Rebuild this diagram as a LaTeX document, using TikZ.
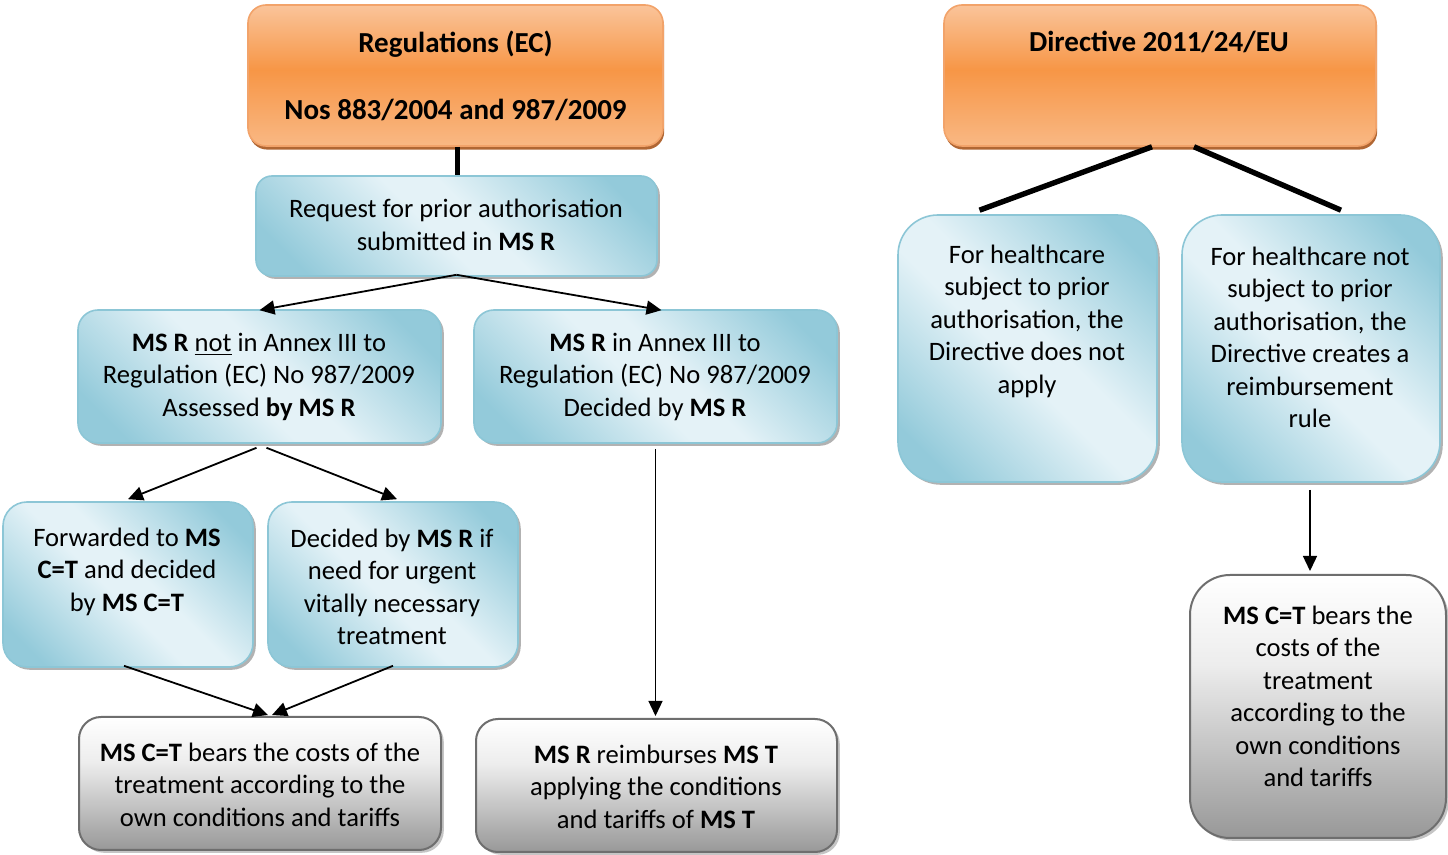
\documentclass[tikz,border=0pt]{standalone}
\usepackage{fontspec}
\setmainfont{Carlito}
\usetikzlibrary{arrows.meta,shadows}

\definecolor{bxdark}{HTML}{93CADA}
\definecolor{bxlight}{HTML}{E4F2F7}
\definecolor{bxedge}{HTML}{8CC6D6}
\definecolor{ortop}{HTML}{FAC49A}
\definecolor{ormid}{HTML}{F79646}
\definecolor{orbot}{HTML}{F9B884}
\definecolor{oredge}{HTML}{F2A36A}
\definecolor{orshadow}{HTML}{A8561E}
\definecolor{gytop}{HTML}{FFFFFF}
\definecolor{gymid}{HTML}{EDEDED}
\definecolor{gybot}{HTML}{989898}
\definecolor{gyedge}{HTML}{6E6E6E}

% diagonal band: dark corners top-right / bottom-left, light along the other diagonal
\pgfdeclarehorizontalshading{bluediag}{100bp}{color(0bp)=(bxdark); color(22bp)=(bxdark); color(46bp)=(bxlight); color(54bp)=(bxlight); color(78bp)=(bxdark); color(100bp)=(bxdark)}
\pgfdeclareverticalshading{orangevert}{100bp}{color(0bp)=(orbot); color(25bp)=(orbot); color(52bp)=(ormid); color(75bp)=(ortop); color(100bp)=(ortop)}
\pgfdeclareverticalshading{grayvert}{100bp}{color(0bp)=(gybot); color(25bp)=(gybot); color(58bp)=(gymid); color(75bp)=(gytop); color(100bp)=(gytop)}

\tikzset{
  x=0.5pt, y=-0.5pt,
  bluebox/.style={draw=bxedge, line width=0.8pt, shading=bluediag, shading angle=45,
    drop shadow={shadow xshift=1.4pt, shadow yshift=-1.4pt, fill=black!55, opacity=0.55}},
  orangebox/.style={draw=oredge, line width=0.8pt, shading=orangevert, rounded corners=9pt,
    drop shadow={shadow xshift=0.6pt, shadow yshift=-1.8pt, fill=orshadow, opacity=0.9}},
  graybox/.style={draw=gyedge, line width=1pt, shading=grayvert,
    drop shadow={shadow xshift=1.4pt, shadow yshift=-1.4pt, fill=black!45, opacity=0.5}},
  txt/.style={align=center, inner sep=0pt, font=\fontsize{13.3}{16.25}\selectfont},
  headtxt/.style={align=center, inner sep=0pt, font=\fontsize{14.5}{17.7}\selectfont\bfseries},
  arr/.style={-{Triangle[length=7.5pt,width=7pt]}, line width=0.9pt},
  thickline/.style={line width=2.7pt},
}

\begin{document}
\begin{tikzpicture}
\useasboundingbox (0,0) rectangle (1448,855);

% ---- boxes ----
\node[orangebox, minimum width=207.5pt, minimum height=70.5pt] (reg) at (455.5,75.5) {};
\node[orangebox, minimum width=216pt, minimum height=70.5pt] (dir) at (1160,75.5) {};

\node[bluebox, rounded corners=8pt, minimum width=200.5pt, minimum height=50pt] (req) at (456.5,226) {};
\node[bluebox, rounded corners=10pt, minimum width=181.5pt, minimum height=66.5pt] (notannex) at (259.5,376.5) {};
\node[bluebox, rounded corners=10pt, minimum width=181.5pt, minimum height=66.5pt] (annex) at (655.5,376.5) {};
\node[bluebox, rounded corners=12pt, minimum width=125pt, minimum height=82.5pt] (fwd) at (128,584.5) {};
\node[bluebox, rounded corners=12pt, minimum width=125pt, minimum height=82.5pt] (urgent) at (393,584.5) {};
\node[bluebox, rounded corners=20pt, minimum width=129.5pt, minimum height=133.5pt] (hcone) at (1027.5,348.5) {};
\node[bluebox, rounded corners=20pt, minimum width=129pt, minimum height=133.5pt] (hctwo) at (1311,348.5) {};

\node[graybox, rounded corners=11pt, minimum width=181pt, minimum height=66.5pt] (bearone) at (260,783.5) {};
\node[graybox, rounded corners=11pt, minimum width=180.5pt, minimum height=66.5pt] (reimb) at (656.5,785.5) {};
\node[graybox, rounded corners=20pt, minimum width=128pt, minimum height=131.5pt] (beartwo) at (1318,706.5) {};

% ---- texts ----
\node[headtxt] (t-reg) at (455.5,75.5) {Regulations (EC)\\[15.8pt]Nos 883/2004 and 987/2009};
\node[headtxt] (t-dir) at (1159,42) {Directive 2011/24/EU};

\node[txt] (t-req) at (456,225) {Request for prior authorisation\\submitted in \textbf{MS R}};
\node[txt] (t-notannex) at (259,376.5) {\textbf{MS R} \underline{not} in Annex III to\\Regulation (EC) No 987/2009\\Assessed \textbf{by MS R}};
\node[txt] (t-annex) at (655,376.5) {\textbf{MS R} in Annex III to\\Regulation (EC) No 987/2009\\Decided by \textbf{MS R}};
\node[txt] (t-fwd) at (127,571.5) {Forwarded to \textbf{MS}\\\textbf{C=T} and decided\\by \textbf{MS C=T}};
\node[txt] (t-urgent) at (392,587) {Decided by \textbf{MS R} if\\need for urgent\\vitally necessary\\treatment};
\node[txt] (t-bearone) at (260,784.5) {\textbf{MS C=T} bears the costs of the\\treatment according to the\\own conditions and tariffs};
\node[txt] (t-reimb) at (656,786.5) {\textbf{MS R} reimburses \textbf{MS T}\\applying the conditions\\and tariffs of \textbf{MS T}};
\node[txt] (t-hcone) at (1027,321) {For healthcare\\subject to prior\\authorisation, the\\Directive does not\\apply};
\node[txt] (t-hctwo) at (1310,337.5) {For healthcare not\\subject to prior\\authorisation, the\\Directive creates a\\reimbursement\\rule};
\node[txt] (t-beartwo) at (1318,696.5) {\textbf{MS C=T} bears the\\costs of the\\treatment\\according to the\\own conditions\\and tariffs};

% ---- connectors ----
\draw[thickline] ([xshift=1pt]reg.south) -- ([xshift=1pt]reg.south |- req.north);
\draw[thickline] ([xshift=-4pt]dir.south) -- ([xshift=-24pt,yshift=2pt]hcone.north);
\draw[thickline] ([xshift=17pt]dir.south) -- ([xshift=15pt,yshift=2pt]hctwo.north);

\draw[arr] ([yshift=1pt]req.south) -- ([yshift=-0.5pt]notannex.north);
\draw[arr] ([yshift=1pt]req.south) -- ([xshift=3pt,yshift=-0.5pt]annex.north);

\draw[arr] ([xshift=-1.5pt,yshift=-2pt]notannex.south) -- ([yshift=1pt]fwd.north);
\draw[arr] ([xshift=3.5pt,yshift=-2pt]notannex.south) -- ([xshift=2pt,yshift=1pt]urgent.north);

\draw[arr, line width=0.7pt] ([yshift=-2.5pt]annex.south) -- ([yshift=1pt]annex.south |- reimb.north);

\draw[arr] ([xshift=-2pt,yshift=1pt]fwd.south) -- ([xshift=4pt,yshift=0.5pt]bearone.north);
\draw[arr] ([yshift=1pt]urgent.south) -- ([xshift=6pt,yshift=0.5pt]bearone.north);

\draw[arr, line width=0.7pt] ([xshift=-0.5pt,yshift=-3.5pt]hctwo.south) -- ([xshift=-0.5pt,yshift=1.5pt]hctwo.south |- beartwo.north);
\end{tikzpicture}
\end{document}
